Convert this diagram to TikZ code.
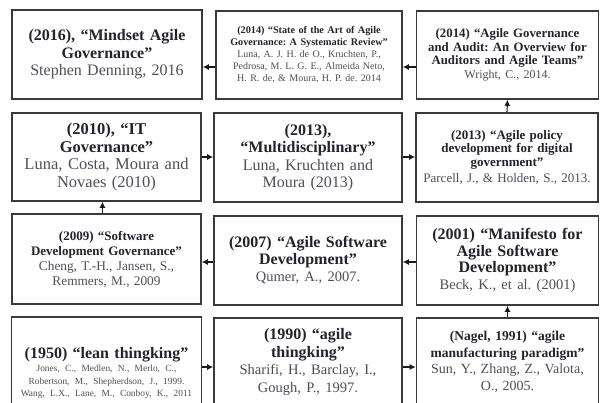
\documentclass[tikz,border=0pt]{standalone}
\usepackage{fontspec}
\setmainfont{Liberation Serif}
\usetikzlibrary{arrows.meta}
\frenchspacing
\definecolor{tcol}{HTML}{23232F}
\definecolor{acol}{HTML}{4E4E5C}
\definecolor{bcol}{HTML}{3A3A3A}
\newcommand{\fsz}[2]{\fontsize{#1}{#2}\selectfont}
\newcommand{\au}{\mdseries\color{acol}}
\tikzset{
  box/.style={draw=bcol, line width=1.6pt, fill=white, align=center, inner sep=2pt, text=tcol, text width=178pt},
  arr/.style={draw=black!90, line width=1.1pt, -{Latex[length=6pt,width=6pt]}},
}
\begin{document}
\begin{tikzpicture}[x=1pt,y=-1pt]
\clip (0,0) rectangle (603,403);
\fill[white] (0,0) rectangle (603,403);
% row 1
\node[box, minimum width=190pt, minimum height=89pt, font={\fsz{16}{17.5}\bfseries}] (b1) at (107,54.5)
  {(2016), “Mindset Agile\\Governance”\\\au Stephen Denning, 2016\par};
\node[box, minimum width=186pt, minimum height=88pt, font={\fsz{10.2}{12}\bfseries}] (b2) at (309,55)
  {(2014) “State of the Art of Agile\\Governance: A Systematic Review”\\\au\fsz{10}{12}Luna, A. J. H. de O., Kruchten, P.,\\Pedrosa, M. L. G. E., Almeida Neto,\\H. R. de, \& Moura, H. P. de. 2014\par};
\node[box, minimum width=181pt, minimum height=88pt, font={\fsz{12.8}{13.5}\bfseries}] (b3) at (507.5,55)
  {(2014) “Agile Governance\\and Audit: An Overview for\\Auditors and Agile Teams”\\\au\fsz{12}{13.5}Wright, C., 2014.\par};
% row 2
\node[box, minimum width=189pt, minimum height=88pt, font={\fsz{16.5}{17.5}\bfseries}] (b4) at (106.5,157)
  {(2010), “IT\\Governance”\\\au Luna, Costa, Moura and\\Novaes (2010)\par};
\node[box, minimum width=188pt, minimum height=89pt, font={\fsz{16}{17.5}\bfseries}] (b5) at (308,157.5)
  {(2013),\\“Multidisciplinary”\\\au Luna, Kruchten and\\Moura (2013)\par};
\node[box, minimum width=182pt, minimum height=89pt, font={\fsz{13}{13.5}\bfseries}] (b6) at (507,157.5)
  {(2013) “Agile policy\\development for digital\\government”\\[3pt]\au Parcell, J., \& Holden, S., 2013.\par};
% row 3
\node[box, minimum width=189pt, minimum height=90pt, font={\fsz{13}{15}\bfseries}] (b7) at (106.5,259)
  {(2009) “Software\\Development Governance”\\\au\fsz{13.3}{15}Cheng, T.-H., Jansen, S.,\\Remmers, M., 2009\par};
\node[box, minimum width=188pt, minimum height=89pt, font={\fsz{16}{17}\bfseries}] (b8) at (308,260.5)
  {(2007) “Agile Software\\Development”\\\au\fsz{14.5}{17}Qumer, A., 2007.\par};
\node[box, minimum width=181pt, minimum height=89pt, font={\fsz{16}{16.5}\bfseries}] (b9) at (507.5,260.5)
  {(2001) “Manifesto for\\Agile Software\\Development”\\\au\fsz{14.5}{16.5}Beck, K., et al. (2001)\par};
% row 4
\node[box, minimum width=189pt, minimum height=112pt, text width=186pt, font={\fsz{16}{12.5}\bfseries}] (b10) at (106.5,373)
  {(1950) “lean thingking”\\[1pt]\au\fsz{9.4}{12.5}Jones, C., Medlen, N., Merlo, C.,\\Robertson, M., Shepherdson, J., 1999.\\Wang, L.X., Lane, M., Conboy, K., 2011\par};
\node[box, minimum width=188pt, minimum height=88pt, font={\fsz{16}{17.5}\bfseries}] (b11) at (308,362)
  {(1990) “agile\\thingking”\\\au\fsz{14.5}{17.5}Sharifi, H., Barclay, I.,\\Gough, P., 1997.\par};
\node[box, minimum width=181pt, minimum height=88pt, font={\fsz{13.5}{16.5}\bfseries}] (b12) at (507.5,362)
  {(Nagel, 1991) “agile\\manufacturing paradigm”\\\au\fsz{14}{16.5}Sun, Y., Zhang, Z., Valota,\\O., 2005.\par};
% connectors
\coordinate (r1) at (0,67);
\coordinate (r2) at (0,157);
\coordinate (r3) at (0,262);
\coordinate (r4) at (0,367);
\draw[arr] (b2.west|-r1) -- (b1.east|-r1);
\draw[arr] (b3.west|-r1) -- (b2.east|-r1);
\draw[arr] (b6.north) -- (b3.south);
\draw[arr] (b4.east|-r2) -- (b5.west|-r2);
\draw[arr] (b5.east|-r2) -- (b6.west|-r2);
\draw[arr] ([xshift=-4pt]b7.north) -- ([xshift=-4pt]b4.south);
\draw[arr] (b9.west|-r3) -- (b8.east|-r3);
\draw[arr] (b8.west|-r3) -- (b7.east|-r3);
\draw[arr] (b12.north) -- (b9.south);
\draw[arr] (b10.east|-r4) -- (b11.west|-r4);
\draw[arr] (b11.east|-r4) -- (b12.west|-r4);
\end{tikzpicture}
\end{document}
